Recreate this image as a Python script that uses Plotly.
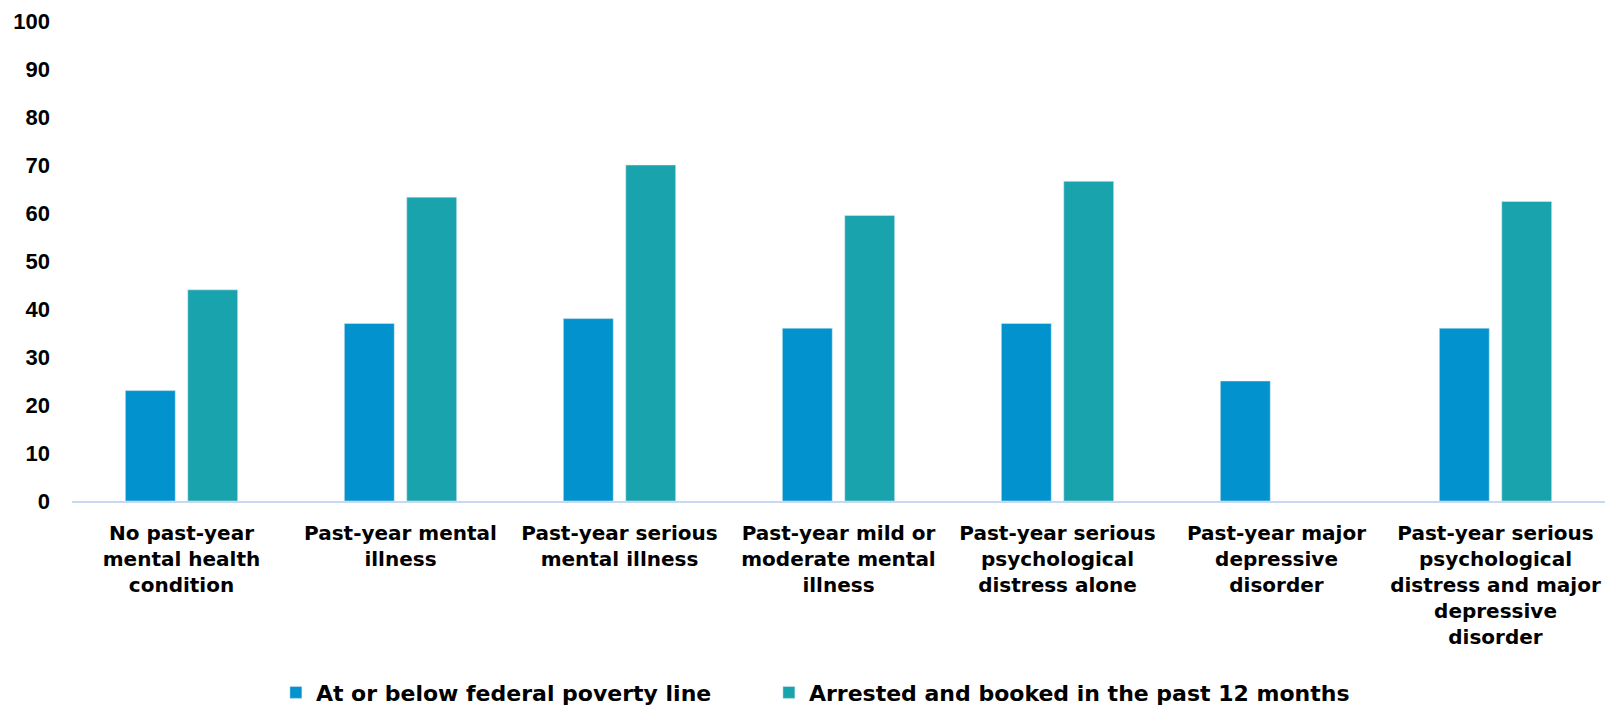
import plotly.graph_objects as go

categories = [
    "No past-year<br>mental health<br>condition",
    "Past-year mental<br>illness",
    "Past-year serious<br>mental illness",
    "Past-year mild or<br>moderate mental<br>illness",
    "Past-year serious<br>psychological<br>distress alone",
    "Past-year major<br>depressive<br>disorder",
    "Past-year serious<br>psychological<br>distress and major<br>depressive<br>disorder",
]
poverty = [23, 37, 38, 36, 37, 25, 36]
arrested = [44, 63.3, 70, 59.5, 66.6, None, 62.4]
series_names = ["At or below federal poverty line", "Arrested and booked in the past 12 months"]
colors = ["#0293cf", "#19a3ad"]
y_ticks = [0, 10, 20, 30, 40, 50, 60, 70, 80, 90, 100]

ARIAL = "Liberation Sans, Arial, sans-serif"
WIDE = "DejaVu Sans, Liberation Sans, Arial, sans-serif"

fig = go.Figure()
fig.add_trace(go.Bar(x=categories, y=poverty, name=series_names[0],
                     marker_color=colors[0], legend="legend"))
fig.add_trace(go.Bar(x=categories, y=arrested, name=series_names[1],
                     marker_color=colors[1], legend="legend2"))

legend_common = dict(
    orientation="h", yref="container", y=0.019, yanchor="middle",
    xanchor="left", bgcolor="rgba(0,0,0,0)",
    font=dict(family=WIDE, size=22, color="black", weight="bold"),
    itemclick=False,
)

fig.update_layout(
    width=1605, height=706,
    margin=dict(l=72, r=0, t=21, b=205),
    paper_bgcolor="white", plot_bgcolor="white",
    barmode="group", bargap=0.43, bargroupgap=0.2,
    font=dict(family=WIDE, color="black", size=20, weight="bold"),
    showlegend=True,
    legend=dict(x=0.133, **legend_common),
    legend2=dict(x=0.4546, **legend_common),
)
fig.update_xaxes(
    showline=True, linecolor="#c6d9f1", linewidth=2,
    showgrid=False, ticks="", tickangle=0,
    tickfont=dict(family=WIDE, size=20, color="black", weight="bold"),
    ticklabelstandoff=13,
)
fig.update_yaxes(
    range=[0, 100], tickvals=y_ticks, showgrid=False, zeroline=False,
    showline=False, ticks="",
    tickfont=dict(family=ARIAL, size=22, color="black", weight="bold"),
    ticklabelstandoff=21,
)

fig.write_html("out.html")
